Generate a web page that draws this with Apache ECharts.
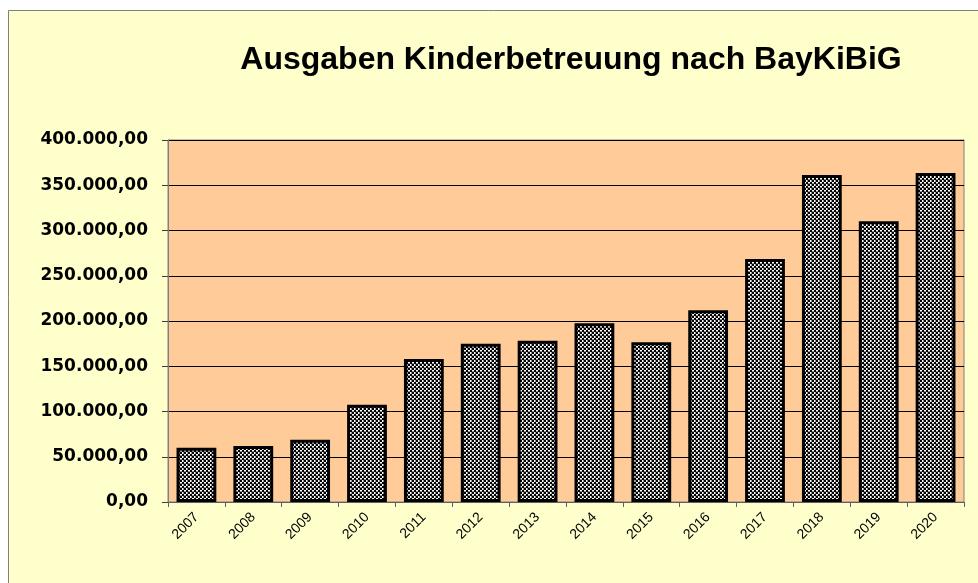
<!DOCTYPE html>
<html>
<head>
<meta charset="utf-8">
<script src="https://cdn.jsdelivr.net/npm/echarts@6/dist/echarts.min.js"></script>
<style>
  html, body { margin: 0; padding: 0; background: #ffffff; }
  #chart { width: 978px; height: 583px; }
</style>
</head>
<body>
<div id="chart"></div>
<script>
// Ausgaben Kinderbetreuung nach BayKiBiG
const years = ['2007', '2008', '2009', '2010', '2011', '2012', '2013',
  '2014', '2015', '2016', '2017', '2018', '2019', '2020']
const ausgaben = [60000, 61900, 68800, 107500, 158000, 174900, 178200,
  197400, 176500, 212000, 268500, 361300, 310100, 363500]

// Schachbrettmuster für die Balken
function makePattern() {
  const rows = [
    'BBWg',
    'BBWg',
    'WWBB',
    'ggBB'
  ]
  const cols = { B: '#000000', W: '#ffffff', g: '#909090' }
  const c = document.createElement('canvas')
  c.width = 4
  c.height = 4
  const ctx = c.getContext('2d')
  rows.forEach((r, y) => {
    for (let x = 0; x < r.length; x++) {
      ctx.fillStyle = cols[r[x]]
      ctx.fillRect(x, y, 1, 1)
    }
  })
  return c
}

// 400000 -> "400.000,00"
function fmtDe(v) {
  const s = Math.round(v).toString().replace(/\B(?=(\d{3})+(?!\d))/g, '.')
  return s + ',00'
}

const chart = echarts.init(document.getElementById('chart'), null, { renderer: 'canvas' })

chart.setOption({
  backgroundColor: '#ffffff',
  animation: false,
  graphic: [
    {
      type: 'rect',
      z: -10,
      shape: { x: 8.5, y: 10.5, width: 1000, height: 1000 },
      style: { fill: '#FFFFCC', stroke: '#808080', lineWidth: 1 }
    }
  ],
  title: {
    text: 'Ausgaben Kinderbetreuung nach BayKiBiG',
    left: 566,
    top: 39,
    textAlign: 'center',
    textStyle: {
      fontFamily: 'Liberation Sans, Arial, sans-serif',
      fontSize: 32,
      fontWeight: 'bold',
      color: '#000000'
    }
  },
  grid: {
    left: 168,
    right: 14,
    top: 140,
    bottom: 81,
    show: true,
    backgroundColor: '#FFCC99',
    borderColor: '#808080',
    borderWidth: 1
  },
  xAxis: {
    type: 'category',
    data: years,
    axisLine: { lineStyle: { color: '#606060', width: 1 } },
    axisTick: { show: true, alignWithLabel: false, length: 5, lineStyle: { color: '#606060' } },
    axisLabel: {
      rotate: 45,
      margin: 13,
      fontFamily: 'Liberation Sans, Arial, sans-serif',
      fontSize: 14,
      color: '#000000'
    },
    splitLine: { show: false }
  },
  yAxis: {
    type: 'value',
    min: 0,
    max: 400000,
    interval: 50000,
    axisLine: { show: true, lineStyle: { color: '#808080', width: 1 } },
    axisTick: { show: true, length: 6, lineStyle: { color: '#404040' } },
    axisLabel: {
      margin: 20,
      formatter: fmtDe,
      fontFamily: 'DejaVu Sans, sans-serif',
      fontSize: 17,
      fontWeight: 'bold',
      color: '#000000'
    },
    splitLine: { show: true, lineStyle: { color: '#000000', width: 1 } }
  },
  series: [
    {
      type: 'bar',
      data: ausgaben,
      barCategoryGap: '30%',
      itemStyle: {
        color: { image: makePattern(), repeat: 'repeat' },
        borderColor: '#000000',
        borderWidth: 3
      }
    }
  ]
})
</script>
</body>
</html>
